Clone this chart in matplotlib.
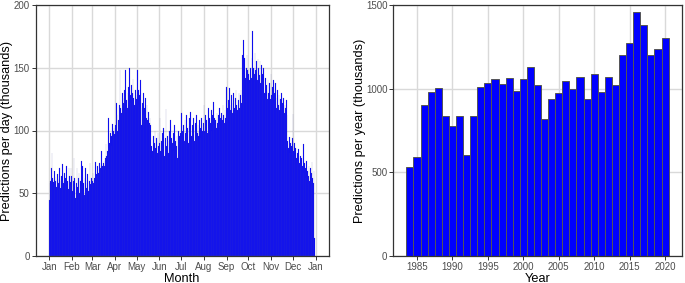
import numpy as np
import matplotlib
matplotlib.use("Agg")
import matplotlib.pyplot as plt

plt.rcParams['font.family'] = ['Liberation Sans', 'DejaVu Sans']

# ---- daily data (thousands) ----
jan = [45, 58, 60, 70, 82, 62, 59, 68, 63, 60, 55, 65, 61, 58, 70, 60, 54, 64, 73, 60,
       58, 66, 62, 56, 72, 60, 53, 70, 64, 59, 70]
feb = [64, 52, 60, 78, 62, 46, 58, 70, 55, 62, 66, 50, 60, 76, 56, 72, 58, 49, 62, 70,
       54, 58, 65, 52, 60, 74, 57, 62]
mar = [60, 66, 58, 62, 75, 60, 65, 72, 64, 66, 74, 70, 72, 84, 72, 74, 76, 72, 78, 89,
       80, 84, 110, 86, 90, 98, 96, 88, 105, 100, 102]
apr = [97, 104, 122, 112, 100, 108, 120, 148, 118, 114, 130, 126, 122, 132, 128, 148, 124, 118, 130, 135,
       150, 128, 122, 136, 130, 141, 126, 120, 132, 128]
may = [125, 148, 132, 120, 128, 140, 118, 104, 122, 130, 112, 118, 126, 110, 120, 108, 115, 106, 110, 104,
       88, 78, 84, 96, 90, 100, 86, 94, 82, 98, 88]
jun = [90, 110, 84, 92, 98, 86, 102, 80, 94, 117, 88, 96, 92, 82, 100, 108, 86, 94, 90, 98,
       84, 104, 92, 88, 96, 78, 100, 92, 96, 98]
jul = [114, 94, 100, 104, 92, 108, 98, 112, 96, 102, 90, 110, 100, 115, 96, 104, 98, 110, 92, 106,
       100, 112, 98, 104, 96, 108, 102, 94, 110, 100, 106]
aug = [120, 100, 112, 104, 108, 98, 118, 102, 110, 106, 116, 100, 112, 123, 104, 110, 108, 102, 114, 106,
       112, 118, 104, 110, 114, 108, 120, 112, 106, 116, 110]
sep = [135, 118, 112, 124, 134, 116, 120, 128, 114, 122, 130, 118, 126, 132, 120, 116, 124, 130, 118, 128,
       132, 122, 160, 172, 145, 158, 142, 150, 160, 148]
oct_ = [145, 140, 138, 150, 142, 158, 179, 150, 145, 162, 148, 155, 140, 157, 150, 144, 155, 138, 152, 145,
        140, 150, 130, 142, 128, 136, 125, 140, 130, 138, 125]
nov = [145, 128, 135, 140, 122, 130, 138, 118, 126, 132, 120, 128, 116, 125, 130, 118, 122, 126, 114, 120,
       118, 124, 112, 92, 86, 95, 82, 90, 88, 94]
dec = [113, 84, 90, 80, 86, 78, 82, 76, 85, 74, 80, 70, 78, 72, 89, 66, 74, 70, 62, 76,
       68, 64, 72, 60, 70, 66, 75, 62, 58, 68, 14]
daily_months = [jan, feb, mar, apr, may, jun, jul, aug, sep, oct_, nov, dec]
month_labels = ["Jan", "Feb", "Mar", "Apr", "May", "Jun", "Jul", "Aug", "Sep", "Oct", "Nov", "Dec", "Jan"]

# ---- yearly data (thousands) ----
years = list(range(1984, 2021))
yearly = [534, 590, 900, 982, 1002, 837, 779, 835, 606, 835,
          1008, 1034, 1060, 1028, 1066, 986, 1056, 1131, 1024, 819,
          940, 972, 1048, 998, 1068, 940, 1088, 978, 1068, 1022,
          1199, 1275, 1458, 1380, 1201, 1235, 1305]

daily = np.concatenate([np.array(m, dtype=float) for m in daily_months])
days = np.arange(len(daily))
month_starts = np.concatenate([[0], np.cumsum([len(m) for m in daily_months])])

W, H = 685, 283
fig = plt.figure(figsize=(W / 100, H / 100), dpi=100)

grid_c = '#D9D9D9'
tick_c = '#4D4D4D'
blue = '#0000FF'
title_fs = 9.2

def style(ax):
    ax.set_facecolor('white')
    ax.grid(True, color=grid_c, linewidth=1.0)
    ax.set_axisbelow(True)
    for s in ax.spines.values():
        s.set_color('#333333')
        s.set_linewidth(0.9)
    ax.tick_params(axis='both', colors='#333333', length=3, width=0.7,
                   labelsize=7, labelcolor=tick_c, pad=1.2)

# left panel
ax1 = fig.add_axes([35.5 / W, 1 - 256 / H, (328.5 - 35.5) / W, (256 - 5) / H])
style(ax1)
ax1.bar(days, daily, width=1.0, color=blue, edgecolor='#5a5aa8', linewidth=0.12)
span = len(daily)
ax1.set_xlim(-0.5 - 0.05 * span, len(daily) - 0.5 + 0.05 * span)
ax1.set_ylim(0, 200)
ax1.set_yticks([0, 50, 100, 150, 200])
ax1.set_xticks(month_starts)
ax1.set_xticklabels(month_labels)

# right panel
ax2 = fig.add_axes([393.3 / W, 1 - 256 / H, (681.7 - 393.3) / W, (256 - 5) / H])
style(ax2)
ax2.bar(years, yearly, width=1.0, color=blue, edgecolor='#555555', linewidth=0.7)
rng = (years[-1] + 0.5) - (years[0] - 0.5)
ax2.set_xlim(years[0] - 0.5 - 0.05 * rng, years[-1] + 0.5 + 0.05 * rng)
ax2.set_ylim(0, 1500)
ax2.set_yticks([0, 500, 1000, 1500])
ax2.set_xticks([1985, 1990, 1995, 2000, 2005, 2010, 2015, 2020])

# axis titles placed in pixel positions
def ftext(x, y, s, **kw):
    fig.text(x / W, 1 - y / H, s, fontsize=title_fs, color='black', **kw)

ftext(182, 281.5, "Month", ha='center', va='baseline')
ftext(538, 281.5, "Year", ha='center', va='baseline')
ftext(7.5, 130.5, "Predictions per day (thousands)", ha='center', va='center', rotation=90)
ftext(360.5, 130.5, "Predictions per year (thousands)", ha='center', va='center', rotation=90)

fig.savefig("out.png", dpi=100, facecolor='white')
